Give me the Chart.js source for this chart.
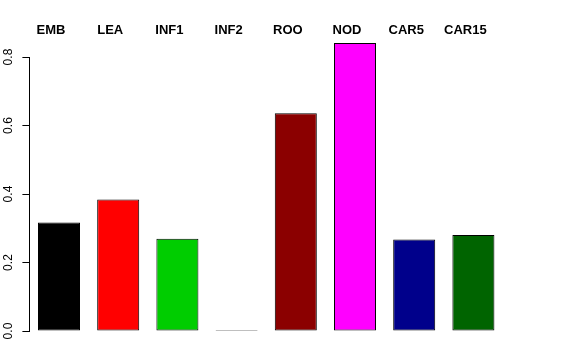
<!DOCTYPE html>
<html>
<head>
<meta charset="utf-8">
<script src="https://cdn.jsdelivr.net/npm/chart.js@4/dist/chart.umd.min.js"></script>
<style>
  html, body { margin: 0; padding: 0; background: #fff; }
  #wrap { width: 576px; height: 360px; position: relative; }
</style>
</head>
<body>
<div id="wrap"><canvas id="c"></canvas></div>
<script>
const categories = ["EMB", "LEA", "INF1", "INF2", "ROO", "NOD", "CAR5", "CAR15"];
const values = [0.317, 0.384, 0.269, 0.002, 0.636, 0.841, 0.267, 0.280];
const barColors = ["#000000", "#FF0000", "#00CD00", "#0000FF", "#8B0000", "#FF00FF", "#00008B", "#006400"];
const yTicks = [0.0, 0.2, 0.4, 0.6, 0.8];

new Chart(document.getElementById('c'), {
  type: 'bar',
  data: {
    labels: categories,
    datasets: [{
      data: values,
      backgroundColor: barColors,
      borderColor: '#000000',
      borderWidth: 1,
      borderSkipped: false,
      minBarLength: 1,
      barPercentage: 0.71,
      categoryPercentage: 1.0,
      clip: false
    }]
  },
  options: {
    responsive: true,
    maintainAspectRatio: false,
    animation: false,
    layout: { padding: { left: 0, right: 73, top: 0, bottom: 29 } },
    plugins: { legend: { display: false }, tooltip: { enabled: false } },
    scales: {
      x: {
        position: 'top',
        grid: { display: false, drawTicks: false },
        border: { display: false },
        ticks: {
          color: '#000',
          font: { family: 'Liberation Sans, Arial, sans-serif', size: 13, weight: 'bold' },
          padding: 19,
          labelOffset: -8,
          maxRotation: 0,
          minRotation: 0
        },
        afterFit: (s) => { s.height = 57; }
      },
      y: {
        min: 0,
        max: 0.8,
        afterBuildTicks: (s) => { s.ticks = yTicks.map(v => ({ value: v })); },
        grid: { drawOnChartArea: false, drawTicks: true, tickLength: 7, color: '#000', lineWidth: 1 },
        border: { display: true, color: '#000', width: 1 },
        ticks: {
          color: '#000',
          font: { family: 'Liberation Sans, Arial, sans-serif', size: 12 },
          minRotation: 90,
          maxRotation: 90,
          padding: 14,
          labelOffset: -8.3,
          callback: (v) => Number(v).toFixed(1)
        },
        afterFit: (s) => { s.width = 29.4; }
      }
    }
  }
});
</script>
</body>
</html>
